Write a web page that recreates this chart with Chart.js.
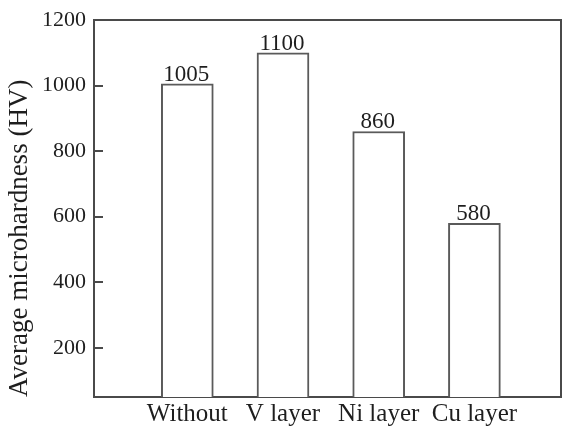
<!DOCTYPE html>
<html>
<head>
<meta charset="utf-8">
<title>Average microhardness</title>
<script src="https://cdn.jsdelivr.net/npm/chart.js@4/dist/chart.umd.min.js"></script>
<style>
  html, body { margin: 0; padding: 0; background: #fff; }
  #wrap { width: 563px; height: 426px; }
</style>
</head>
<body>
<div id="wrap"><canvas id="chart" width="563" height="426"></canvas></div>
<script>
// Coating conditions and their measured hardness
const categories = ['Without', 'V layer', 'Ni layer', 'Cu layer'];
const hardness = [1005, 1100, 860, 580];
const yTicks = [200, 400, 600, 800, 1000, 1200];

const SERIF = '"Liberation Serif", "Times New Roman", serif';
const INK = '#1e1e1e';
const LINE = '#4a4a4a';

// Box round the plot area (top and right edges)
const frame = {
  id: 'frame',
  afterDraw(chart) {
    const { ctx, chartArea: a } = chart;
    ctx.save();
    ctx.strokeStyle = LINE;
    ctx.lineWidth = 2;
    ctx.beginPath();
    ctx.moveTo(a.left, a.top);
    ctx.lineTo(a.right, a.top);
    ctx.lineTo(a.right, a.bottom);
    ctx.stroke();
    ctx.restore();
  }
};

// Short tick marks pointing into the plot from the y axis
const innerTicks = {
  id: 'innerTicks',
  afterDraw(chart) {
    const { ctx, chartArea: a } = chart;
    const y = chart.scales.y;
    ctx.save();
    ctx.fillStyle = LINE;
    yTicks.forEach(v => {
      const py = Math.round(y.getPixelForValue(v));
      ctx.fillRect(a.left, py - 1, 9, 2);
    });
    ctx.restore();
  }
};

// Value written above each bar
const valueLabels = {
  id: 'valueLabels',
  afterDatasetsDraw(chart) {
    const { ctx } = chart;
    const meta = chart.getDatasetMeta(0);
    ctx.save();
    ctx.fillStyle = INK;
    ctx.font = '23px ' + SERIF;
    ctx.textAlign = 'center';
    ctx.textBaseline = 'alphabetic';
    meta.data.forEach((bar, i) => {
      ctx.fillText(String(hardness[i]), bar.x - 1, bar.y - 3);
    });
    ctx.restore();
  }
};

// Keep the axes from reserving extra room for overhanging labels
function noOverhang(scale) {
  scale.paddingTop = 0;
  scale.paddingBottom = 0;
  scale.paddingLeft = 0;
  scale.paddingRight = 0;
}

new Chart(document.getElementById('chart'), {
  type: 'bar',
  data: {
    datasets: [{
      data: hardness.map((v, i) => ({ x: i + 1, y: v })),
      backgroundColor: '#ffffff',
      borderColor: '#5a5a5a',
      borderWidth: 2,
      barThickness: 52
    }]
  },
  options: {
    responsive: false,
    animation: false,
    layout: { padding: { left: 0, right: 2, top: 20, bottom: 0 } },
    plugins: {
      legend: { display: false },
      tooltip: { enabled: false }
    },
    scales: {
      x: {
        type: 'linear',
        offset: false,
        min: 0.025,
        max: 4.905,
        afterBuildTicks(scale) {
          scale.ticks = categories.map((c, i) => ({ value: i + 1 }));
        },
        afterFit(scale) { scale.height = 29; noOverhang(scale); },
        grid: { display: false, drawTicks: false, offset: false },
        border: { display: true, color: LINE, width: 2 },
        ticks: {
          color: INK,
          font: { family: SERIF, size: 25 },
          padding: 2,
          maxRotation: 0,
          autoSkip: false,
          callback: (v) => categories[Math.round(v) - 1] || ''
        }
      },
      y: {
        min: 50,
        max: 1200,
        afterBuildTicks(scale) {
          scale.ticks = yTicks.map(v => ({ value: v }));
        },
        afterFit(scale) { scale.width = 94; noOverhang(scale); },
        grid: {
          display: true,
          drawOnChartArea: false,
          drawTicks: false
        },
        border: { display: true, color: LINE, width: 2 },
        ticks: {
          color: INK,
          font: { family: SERIF, size: 22 },
          padding: 8,
          autoSkip: false,
          callback: (v) => String(v)
        },
        title: {
          display: true,
          text: 'Average microhardness (HV)',
          color: INK,
          align: 'start',
          font: { family: SERIF, size: 27 },
          padding: { top: 4, bottom: 0 }
        }
      }
    }
  },
  plugins: [frame, innerTicks, valueLabels]
});
</script>
</body>
</html>
